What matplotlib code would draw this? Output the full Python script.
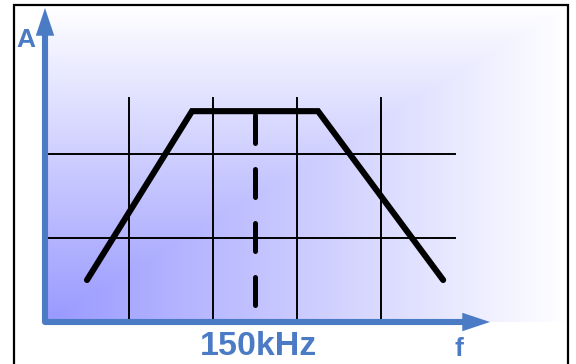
import numpy as np
import matplotlib
matplotlib.use("Agg")
import matplotlib.pyplot as plt

# ---- data (in grid units) ----
grid_x = [1, 2, 3, 4]            # vertical grid lines
grid_y = [1, 2]                  # horizontal grid lines
grid_x_top = 2.67                # top of vertical grid lines
grid_y_right = 4.88              # right end of horizontal grid lines
curve_f = [0.5, 1.75, 3.25, 4.74]
curve_a = [0.5, 2.51, 2.51, 0.5]
marker_f = 2.5                   # 150kHz
marker_a = [2.46, 0.185]
center_label = "150kHz"
x_label = "f"
y_label = "A"

BLUE = "#4a7bc4"
GRAD_START = np.array([153, 153, 255]) / 255.0

fig = plt.figure(figsize=(5.76, 3.64), dpi=100)
ax = fig.add_axes([0, 0, 1, 1])
px = 84.0  # pixels per unit
ax.set_xlim(-45 / px, (576 - 45) / px)
ax.set_ylim((322 - 364) / px, 322 / px)
ax.axis("off")

# background gradient (rectangular path gradient from the bottom-left corner)
x1, y1 = (568 - 45) / px, (322 - 6) / px
nx, ny = 500, 300
gx = np.linspace(0, 1, nx)
gy = np.linspace(0, 1, ny)
GX, GY = np.meshgrid(gx, gy)
t = np.clip(np.maximum(GX, GY), 0, 1)
img = GRAD_START[None, None, :] * (1 - t[..., None]) + np.ones(3)[None, None, :] * t[..., None]
ax.imshow(img, extent=[0, x1, 0, y1], origin="lower", aspect="auto",
          interpolation="bilinear", zorder=0)

# frame
fr_l, fr_t, fr_r, fr_b = (14 - 45) / px, (322 - 5) / px, (568 - 45) / px, (322 - 370) / px
ax.plot([fr_l, fr_l, fr_r, fr_r], [fr_b, fr_t, fr_t, fr_b], color="black", lw=1.6,
        solid_joinstyle="miter", zorder=1)

# grid
for gxv in grid_x:
    ax.plot([gxv, gxv], [0, grid_x_top], color="black", lw=1.4, zorder=2)
for gyv in grid_y:
    ax.plot([0, grid_y_right], [gyv, gyv], color="black", lw=1.4, zorder=2)

# curve
ax.plot(curve_f, curve_a, color="black", lw=4.4, solid_capstyle="round",
        solid_joinstyle="miter", zorder=3)
ax.plot([marker_f, marker_f], marker_a, color="black", lw=3.6,
        dashes=(5.6, 5.2), dash_capstyle="round", zorder=3)

# axes with arrows
y_tip = (322 - 8) / px
x_tip = (490 - 45) / px
ax.plot([0, 0, x_tip - 0.3], [y_tip - 0.3, 0, 0], color=BLUE, lw=4.4,
        solid_joinstyle="round", solid_capstyle="butt", zorder=4)
hw, hl = 0.22, 0.33
ax.fill([-hw / 2, hw / 2, 0], [y_tip - hl, y_tip - hl, y_tip], color=BLUE, lw=0, zorder=4)
ax.fill([x_tip - hl, x_tip - hl, x_tip], [-hw / 2, hw / 2, 0], color=BLUE, lw=0, zorder=4)

# labels
font = ["Liberation Sans", "DejaVu Sans"]
ax.text((26 - 45) / px, (322 - 47) / px, y_label, color=BLUE, fontsize=19,
        fontweight="bold", family=font, ha="center", va="baseline", zorder=5)
ax.text((258 - 45) / px, (322 - 355) / px, center_label, color=BLUE, fontsize=24.5,
        fontweight="bold", family=font, ha="center", va="baseline", zorder=5)
ax.text((458.5 - 45) / px, (322 - 356) / px, x_label, color=BLUE, fontsize=19,
        fontweight="bold", family=font, ha="center", va="baseline", zorder=5)

fig.savefig("out.png", dpi=100)
